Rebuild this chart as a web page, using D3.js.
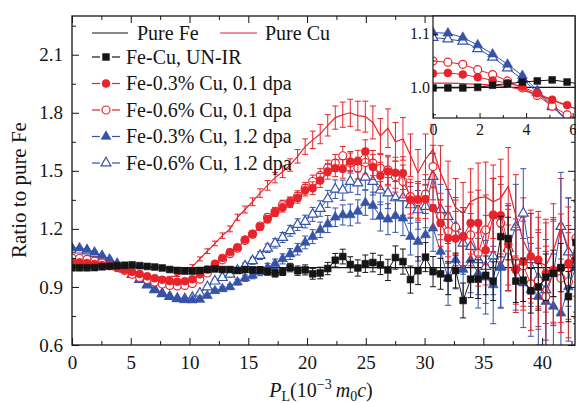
<!DOCTYPE html>
<html><head><meta charset="utf-8">
<script src="https://cdn.jsdelivr.net/npm/d3@7"></script>
<style>
html,body{margin:0;padding:0;background:#fff;}
svg{display:block;font-family:"Liberation Serif","Times New Roman",serif;}
</style></head><body>
<svg id="chart" width="576" height="403"></svg>
<script>
// ---- data: ratio of each spectrum to the pure-Fe spectrum ----
const momentumStep = 0.64;          // channel width, 10^-3 m0c
const pureFeRatio = 1.0;

const pureCu = [1.008,1.008,1.007,1.006,1.004,1.001,0.995,0.986,0.976,0.966,
  0.956,0.949,0.946,0.949,0.960,0.978,1.005,1.045,1.085,1.125,
  1.165,1.200,1.260,1.300,1.340,1.385,1.425,1.465,1.495,1.530,
  1.575,1.625,1.660,1.690,1.735,1.775,1.790,1.800,1.785,1.780,
  1.750,1.680,1.720,1.650,1.665,1.580,1.490,1.560,1.610,1.490,
  1.400,1.310,1.280,1.340,1.360,1.365,1.340,1.360,1.420,1.270,
  1.140,1.060,1.030,1.010,1.090,1.210,1.100,1.030];
const errPureCu = [0.006,0.006,0.006,0.006,0.006,0.006,0.006,0.006,0.006,0.006,
  0.006,0.006,0.006,0.006,0.006,0.008,0.010,0.010,0.012,0.012,
  0.014,0.015,0.016,0.018,0.020,0.022,0.025,0.027,0.030,0.032,
  0.035,0.040,0.045,0.050,0.055,0.060,0.065,0.070,0.075,0.080,
  0.085,0.090,0.100,0.100,0.110,0.110,0.120,0.130,0.130,0.140,
  0.150,0.150,0.160,0.170,0.180,0.180,0.190,0.200,0.200,0.210,
  0.220,0.220,0.230,0.240,0.240,0.250,0.260,0.260];

const feCuUnirr = [0.999,0.999,0.999,1.000,1.004,1.007,1.010,1.012,1.014,1.010,
  1.006,1.003,0.998,0.990,0.985,0.982,0.982,0.985,0.990,0.993,
  0.990,0.990,0.985,0.990,0.988,0.988,0.979,0.971,0.979,1.000,
  0.984,0.988,0.968,0.972,0.995,1.038,1.057,1.016,0.998,1.020,
  1.026,1.014,0.988,1.052,1.031,0.938,0.984,1.054,0.979,0.968,
  0.945,0.985,0.830,0.940,0.940,0.960,0.930,1.160,1.150,0.930,
  0.935,0.880,0.900,0.950,0.970,1.000,0.850,1.130];
const errFeCuUnirr = [0.004,0.004,0.004,0.004,0.004,0.004,0.004,0.004,0.004,0.004,
  0.004,0.005,0.005,0.005,0.006,0.006,0.007,0.008,0.009,0.010,
  0.010,0.012,0.012,0.014,0.015,0.016,0.018,0.020,0.020,0.022,
  0.024,0.026,0.028,0.030,0.032,0.035,0.038,0.040,0.042,0.045,
  0.048,0.050,0.055,0.060,0.065,0.070,0.072,0.075,0.078,0.080,
  0.085,0.090,0.090,0.095,0.100,0.100,0.100,0.105,0.110,0.110,
  0.110,0.115,0.120,0.120,0.120,0.125,0.130,0.130];

const fe03Cu01 = [1.026,1.027,1.024,1.019,1.013,1.008,1.001,0.989,0.977,0.967,
  0.955,0.945,0.937,0.930,0.927,0.930,0.940,0.965,0.990,1.020,
  1.050,1.080,1.105,1.145,1.175,1.210,1.250,1.285,1.310,1.335,
  1.360,1.400,1.410,1.450,1.497,1.514,1.510,1.548,1.550,1.600,
  1.520,1.474,1.497,1.490,1.488,1.350,1.350,1.354,1.307,1.230,
  1.152,1.150,1.160,1.230,1.230,1.090,1.270,1.270,1.120,0.988,
  1.030,1.057,1.040,0.971,0.988,0.997,1.023,1.040];
const errFe03Cu01 = [0.004,0.004,0.004,0.004,0.004,0.004,0.004,0.004,0.004,0.004,
  0.004,0.005,0.005,0.005,0.006,0.006,0.007,0.008,0.009,0.010,
  0.011,0.012,0.013,0.014,0.015,0.017,0.019,0.021,0.023,0.025,
  0.027,0.030,0.033,0.036,0.040,0.044,0.048,0.052,0.056,0.060,
  0.065,0.070,0.075,0.080,0.085,0.090,0.095,0.100,0.110,0.120,
  0.130,0.140,0.150,0.160,0.170,0.180,0.190,0.200,0.210,0.220,
  0.230,0.240,0.250,0.260,0.270,0.280,0.290,0.300];

const fe06Cu01 = [1.049,1.047,1.043,1.033,1.024,1.012,0.999,0.985,0.965,0.949,
  0.938,0.925,0.915,0.908,0.905,0.908,0.918,0.940,0.972,1.005,
  1.040,1.072,1.100,1.140,1.172,1.215,1.260,1.290,1.325,1.340,
  1.370,1.410,1.445,1.475,1.515,1.540,1.578,1.540,1.514,1.543,
  1.540,1.514,1.505,1.470,1.445,1.367,1.340,1.380,1.522,1.264,
  1.186,1.209,1.160,1.169,1.074,1.195,1.272,1.230,1.091,1.031,
  1.010,0.916,0.931,0.850,0.979,0.945,0.927,1.152];
const errFe06Cu01 = [0.004,0.004,0.004,0.004,0.004,0.004,0.004,0.004,0.004,0.004,
  0.004,0.005,0.005,0.005,0.006,0.006,0.007,0.008,0.009,0.010,
  0.011,0.012,0.013,0.014,0.015,0.017,0.019,0.021,0.023,0.025,
  0.027,0.030,0.033,0.036,0.040,0.044,0.048,0.052,0.056,0.060,
  0.065,0.070,0.075,0.080,0.085,0.090,0.095,0.100,0.110,0.120,
  0.130,0.140,0.150,0.160,0.170,0.180,0.190,0.200,0.210,0.220,
  0.230,0.240,0.250,0.260,0.270,0.280,0.290,0.300];

const fe03Cu12 = [1.102,1.101,1.093,1.079,1.062,1.043,1.022,0.994,0.966,0.940,
  0.912,0.888,0.866,0.850,0.838,0.833,0.832,0.835,0.855,0.880,
  0.890,0.900,0.925,0.945,0.960,0.978,1.000,1.020,1.045,1.070,
  1.095,1.130,1.160,1.195,1.225,1.260,1.272,1.272,1.290,1.335,
  1.320,1.264,1.250,1.267,1.255,1.160,1.134,1.169,1.204,1.083,
  0.945,1.040,0.990,1.040,0.971,0.950,0.910,1.000,1.100,1.000,
  0.920,0.885,0.850,0.824,0.800,0.764,0.900,1.000];
const errFe03Cu12 = [0.004,0.004,0.004,0.004,0.004,0.004,0.004,0.004,0.004,0.004,
  0.004,0.005,0.005,0.005,0.006,0.006,0.007,0.008,0.009,0.010,
  0.012,0.013,0.015,0.016,0.018,0.020,0.022,0.024,0.026,0.028,
  0.030,0.033,0.036,0.040,0.044,0.048,0.052,0.056,0.060,0.065,
  0.070,0.075,0.080,0.085,0.090,0.095,0.100,0.110,0.120,0.130,
  0.140,0.150,0.160,0.170,0.180,0.190,0.200,0.210,0.220,0.220,
  0.230,0.240,0.250,0.260,0.270,0.280,0.280,0.290];

const fe06Cu12 = [1.093,1.090,1.086,1.072,1.056,1.036,1.015,0.991,0.964,0.938,
  0.910,0.885,0.865,0.850,0.840,0.838,0.845,0.867,0.900,0.930,
  0.948,0.965,0.985,1.008,1.035,1.062,1.100,1.125,1.155,1.190,
  1.222,1.238,1.275,1.305,1.355,1.405,1.400,1.445,1.437,1.467,
  1.445,1.400,1.385,1.360,1.360,1.324,1.298,1.316,1.470,1.300,
  1.264,1.212,1.126,1.109,1.040,1.005,1.060,1.005,1.100,1.210,
  1.281,1.040,0.945,0.885,0.970,1.212,1.080,1.000];
const errFe06Cu12 = [0.004,0.004,0.004,0.004,0.004,0.004,0.004,0.004,0.004,0.004,
  0.004,0.005,0.005,0.005,0.006,0.006,0.007,0.008,0.009,0.010,
  0.012,0.013,0.015,0.016,0.018,0.020,0.022,0.024,0.026,0.028,
  0.030,0.033,0.036,0.040,0.044,0.048,0.052,0.056,0.060,0.065,
  0.070,0.075,0.080,0.085,0.090,0.095,0.100,0.110,0.120,0.130,
  0.140,0.150,0.160,0.170,0.180,0.190,0.200,0.210,0.220,0.220,
  0.230,0.240,0.250,0.260,0.270,0.280,0.280,0.290];

// axis ticks
const xTicks = [0,5,10,15,20,25,30,35,40];
const xMinorTicks = [2.5,7.5,12.5,17.5,22.5,27.5,32.5,37.5,42.5];
const yTicks = [0.6,0.9,1.2,1.5,1.8,2.1];
const yMinorTicks = [0.75,1.05,1.35,1.65,1.95,2.25];
const insetXTicks = [0,2,4,6];
const insetXMinorTicks = [1,3,5];
const insetYTicks = [1.0,1.1];
const insetYMinorTicks = [0.95,1.05];

// ---- chart ----
const RED = "#e8232b", BLUE = "#3553a8", BLACK = "#151515";
const pL = d3.range(pureCu.length).map(i => i * momentumStep);

const seriesList = [
  {label:"Fe-0.6% Cu, 1.2 dpa", v:fe06Cu12, e:errFe06Cu12, color:BLUE, sym:d3.symbolTriangle, size:42, open:true},
  {label:"Fe-0.3% Cu, 1.2 dpa", v:fe03Cu12, e:errFe03Cu12, color:BLUE, sym:d3.symbolTriangle, size:42, open:false},
  {label:"Fe-0.6% Cu, 0.1 dpa", v:fe06Cu01, e:errFe06Cu01, color:RED, sym:d3.symbolCircle, size:50, open:true},
  {label:"Fe-0.3% Cu, 0.1 dpa", v:fe03Cu01, e:errFe03Cu01, color:RED, sym:d3.symbolCircle, size:50, open:false},
  {label:"Fe-Cu, UN-IR", v:feCuUnirr, e:errFeCuUnirr, color:BLACK, sym:d3.symbolSquare, size:46, open:false}
];

const svg = d3.select("#chart");
const W = 576, H = 403;
const plot = {l:72, r:575, t:16, b:345};
const x = d3.scaleLinear().domain([0, 42.8]).range([plot.l, plot.r]);
const y = d3.scaleLinear().domain([0.6, 2.3]).range([plot.b, plot.t]);

const defs = svg.append("defs");
defs.append("clipPath").attr("id","mainClip").append("rect")
  .attr("x",plot.l).attr("y",plot.t).attr("width",plot.r-plot.l).attr("height",plot.b-plot.t);

function drawErrorBars(g, xs, ys, vals, errs, color, cap) {
  const eb = g.append("g").attr("stroke", color).attr("stroke-width", 1).attr("fill","none");
  vals.forEach((v, i) => {
    const px = xs(pL[i]), y1 = ys(v - errs[i]), y2 = ys(v + errs[i]);
    eb.append("line").attr("x1",px).attr("x2",px).attr("y1",y1).attr("y2",y2);
    eb.append("line").attr("x1",px-cap).attr("x2",px+cap).attr("y1",y1).attr("y2",y1);
    eb.append("line").attr("x1",px-cap).attr("x2",px+cap).attr("y1",y2).attr("y2",y2);
  });
}

function drawMarkerSeries(g, xs, ys, s, withErrors) {
  const pts = s.v.map((v,i) => [pL[i], v]);
  if (withErrors) drawErrorBars(g, xs, ys, s.v, s.e, s.color, 3);
  g.append("path").datum(pts)
    .attr("d", d3.line().x(d => xs(d[0])).y(d => ys(d[1])))
    .attr("fill","none").attr("stroke", s.color).attr("stroke-width", 1);
  const sym = d3.symbol().type(s.sym).size(s.size);
  g.append("g").selectAll("path").data(pts).join("path")
    .attr("transform", d => `translate(${xs(d[0])},${ys(d[1])})`)
    .attr("d", sym)
    .attr("fill", s.open ? "#fff" : s.color)
    .attr("stroke", s.color).attr("stroke-width", s.open ? 1.2 : 0.6);
}

// main plot data
const main = svg.append("g").attr("clip-path","url(#mainClip)");
main.append("line").attr("x1",x(0)).attr("x2",x(42.8))
  .attr("y1",y(pureFeRatio)).attr("y2",y(pureFeRatio))
  .attr("stroke",BLACK).attr("stroke-width",1.1);
drawErrorBars(main, x, y, pureCu, errPureCu, RED, 3);
main.append("path").datum(pureCu.map((v,i)=>[pL[i],v]))
  .attr("d", d3.line().x(d=>x(d[0])).y(d=>y(d[1])))
  .attr("fill","none").attr("stroke",RED).attr("stroke-width",1.2);
seriesList.forEach(s => drawMarkerSeries(main, x, y, s, true));

// axes (ticks pointing inward)
function styleAxis(g, fs) {
  g.select(".domain").remove();
  g.selectAll(".tick line").attr("stroke", BLACK).attr("stroke-width", 1);
  g.selectAll(".tick text").attr("font-size", fs).attr("fill", BLACK)
    .attr("font-family", '"Liberation Serif",serif');
}
const fmt1 = d3.format(".1f");
styleAxis(svg.append("g").attr("transform",`translate(0,${plot.b})`)
  .call(d3.axisBottom(x).tickValues(xTicks).tickSize(-7).tickPadding(11).tickFormat(d3.format("d"))), 19);
styleAxis(svg.append("g").attr("transform",`translate(0,${plot.b})`)
  .call(d3.axisBottom(x).tickValues(xMinorTicks).tickSize(-4).tickFormat("")), 19);
styleAxis(svg.append("g").attr("transform",`translate(0,${plot.t})`)
  .call(d3.axisTop(x).tickValues(xTicks).tickSize(-7).tickFormat("")), 19);
styleAxis(svg.append("g").attr("transform",`translate(0,${plot.t})`)
  .call(d3.axisTop(x).tickValues(xMinorTicks).tickSize(-4).tickFormat("")), 19);
styleAxis(svg.append("g").attr("transform",`translate(${plot.l},0)`)
  .call(d3.axisLeft(y).tickValues(yTicks).tickSize(-7).tickPadding(9).tickFormat(fmt1)), 19);
styleAxis(svg.append("g").attr("transform",`translate(${plot.l},0)`)
  .call(d3.axisLeft(y).tickValues(yMinorTicks).tickSize(-4).tickFormat("")), 19);
styleAxis(svg.append("g").attr("transform",`translate(${plot.r},0)`)
  .call(d3.axisRight(y).tickValues(yTicks).tickSize(-7).tickFormat("")), 19);
styleAxis(svg.append("g").attr("transform",`translate(${plot.r},0)`)
  .call(d3.axisRight(y).tickValues(yMinorTicks).tickSize(-4).tickFormat("")), 19);
svg.append("rect").attr("x",plot.l).attr("y",plot.t)
  .attr("width",plot.r-plot.l).attr("height",plot.b-plot.t)
  .attr("fill","none").attr("stroke",BLACK).attr("stroke-width",1.3);

// axis titles
svg.append("text").attr("transform","translate(19,190) rotate(-90)")
  .attr("text-anchor","middle").attr("dy","0.35em").attr("font-size",21).attr("fill",BLACK)
  .text("Ratio to pure Fe");
const xt = svg.append("text").attr("x",321).attr("y",397).attr("text-anchor","middle")
  .attr("font-size",20).attr("fill",BLACK);
xt.append("tspan").attr("font-style","italic").text("P");
xt.append("tspan").attr("font-size",14).attr("dy",4).text("L");
xt.append("tspan").attr("dy",-4).text("(10");
xt.append("tspan").attr("font-size",14).attr("dy",-8).text("\u22123");
xt.append("tspan").attr("dy",8).text("\u2009");
xt.append("tspan").attr("font-style","italic").text("m");
xt.append("tspan").attr("font-size",14).attr("dy",4).text("0");
xt.append("tspan").attr("dy",-4).attr("font-style","italic").text("c");
xt.append("tspan").text(")");

// legend
const leg = svg.append("g");
const legFont = 20;
function legLine(x1, x2, yy, color) {
  leg.append("line").attr("x1",x1).attr("x2",x2).attr("y1",yy).attr("y2",yy)
    .attr("stroke",color).attr("stroke-width",1.2);
}
function legText(tx, yy, label) {
  leg.append("text").attr("x",tx).attr("y",yy).attr("dy","0.33em")
    .attr("font-size",legFont).attr("fill",BLACK).text(label);
}
legLine(92, 128, 33, BLACK); legText(137, 33, "Pure Fe");
legLine(220, 257, 33, RED);  legText(265, 33, "Pure Cu");
const legendOrder = [4, 3, 2, 1, 0];
legendOrder.forEach((si, k) => {
  const s = seriesList[si], yy = 57 + k * 26.5;
  legLine(92, 100, yy, s.color);
  legLine(112, 120, yy, s.color);
  leg.append("path").attr("transform",`translate(106,${yy})`)
    .attr("d", d3.symbol().type(s.sym).size(s.size)())
    .attr("fill", s.open ? "#fff" : s.color)
    .attr("stroke", s.color).attr("stroke-width", s.open ? 1.2 : 0.6);
  legText(126, yy, s.label);
});

// inset: zoom on the low-momentum region
const ins = {l:433, r:575, t:16, b:118};
const xi = d3.scaleLinear().domain([0, 6.1]).range([ins.l, ins.r]);
const yi = d3.scaleLinear().domain([0.943, 1.133]).range([ins.b, ins.t]);
defs.append("clipPath").attr("id","insetClip").append("rect")
  .attr("x",ins.l).attr("y",ins.t).attr("width",ins.r-ins.l).attr("height",ins.b-ins.t);
svg.append("rect").attr("x",ins.l).attr("y",ins.t).attr("width",ins.r-ins.l).attr("height",ins.b-ins.t)
  .attr("fill","#fff");
const inset = svg.append("g").attr("clip-path","url(#insetClip)");
inset.append("line").attr("x1",xi(0)).attr("x2",xi(6.1))
  .attr("y1",yi(pureFeRatio)).attr("y2",yi(pureFeRatio))
  .attr("stroke",BLACK).attr("stroke-width",1.1);
inset.append("path").datum(pureCu.slice(0, 12).map((v,i)=>[pL[i],v]))
  .attr("d", d3.line().curve(d3.curveMonotoneX).x(d=>xi(d[0])).y(d=>yi(d[1])))
  .attr("fill","none").attr("stroke",RED).attr("stroke-width",1.2);
seriesList.forEach(s => drawMarkerSeries(inset, xi, yi,
  Object.assign({}, s, {v: s.v.slice(0, 12), e: s.e.slice(0, 12)}), false));
styleAxis(svg.append("g").attr("transform",`translate(0,${ins.b})`)
  .call(d3.axisBottom(xi).tickValues(insetXTicks).tickSize(-5).tickPadding(6).tickFormat(d3.format("d"))), 16);
styleAxis(svg.append("g").attr("transform",`translate(0,${ins.b})`)
  .call(d3.axisBottom(xi).tickValues(insetXMinorTicks).tickSize(-3).tickFormat("")), 16);
styleAxis(svg.append("g").attr("transform",`translate(${ins.l},0)`)
  .call(d3.axisLeft(yi).tickValues(insetYTicks).tickSize(-5).tickPadding(3).tickFormat(fmt1)), 16);
styleAxis(svg.append("g").attr("transform",`translate(${ins.l},0)`)
  .call(d3.axisLeft(yi).tickValues(insetYMinorTicks).tickSize(-3).tickFormat("")), 16);
svg.append("rect").attr("x",ins.l).attr("y",ins.t).attr("width",ins.r-ins.l).attr("height",ins.b-ins.t)
  .attr("fill","none").attr("stroke",BLACK).attr("stroke-width",1.2);
</script>
</body></html>
